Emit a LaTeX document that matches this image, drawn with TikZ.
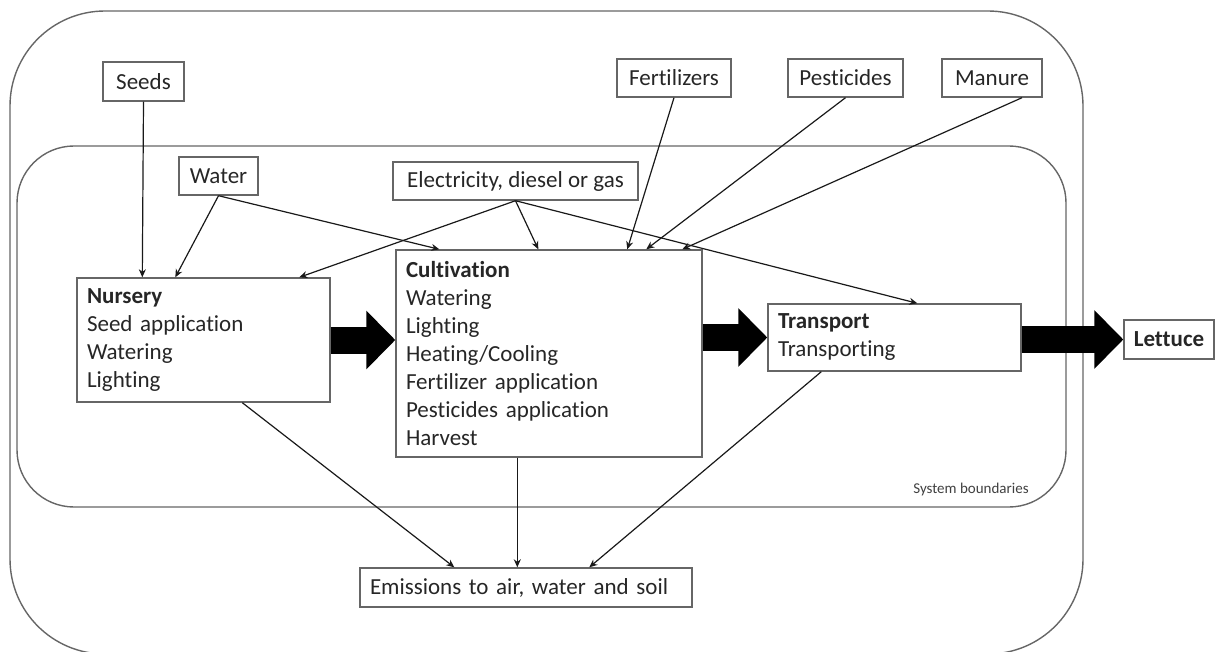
\documentclass[tikz,border=0pt]{standalone}
\usepackage{fontspec}
\setmainfont{Carlito}[Ligatures=NoCommon]
\usetikzlibrary{arrows.meta,calc}

\begin{document}
\begin{tikzpicture}[x=0.5pt,y=-0.5pt,
		box/.style={draw=black!60,line width=0.7pt,inner sep=0pt,font=\fontsize{11.5}{14}\selectfont,text=black!85},
		listbox/.style={box,align=left,inner xsep=5pt},
		flow/.style={draw=black!90,line width=0.6pt,-{Stealth[length=4pt,width=3.5pt]}},
		bigarrow/.style={draw=black,line width=13.5pt,-{Triangle[length=14.5pt,width=28.5pt]}},
		boundary/.style={draw=black!60,line width=0.7pt}]
				\useasboundingbox (0,0) rectangle (1215,652);
				%Boundaries
				\draw[boundary,rounded corners=47.5pt] (10,11) rectangle (1083,654);
				\draw[boundary,rounded corners=28.5pt] (17,146) rectangle (1066,507);
				\node[font=\fontsize{7.5}{9}\selectfont,text=black!75] (sysbound) at (971,489) {System boundaries};
				%Inputs
				\node[box,minimum width=40.5pt,minimum height=19.5pt] (seeds) at (143.5,81.5) {Seeds};
				\node[box,minimum width=39.5pt,minimum height=19pt] (water) at (218.5,176) {Water};
				\node[box,minimum width=122.5pt,minimum height=19pt] (energy) at (515.5,181) {Electricity, diesel or gas};
				\node[box,minimum width=57pt,minimum height=19pt] (fert) at (674,78) {Fertilizers};
				\node[box,minimum width=57.5pt,minimum height=19pt] (pest) at (845.5,78) {Pesticides};
				\node[box,minimum width=50pt,minimum height=19pt] (manure) at (992,78) {Manure};
				%Stages
				\node[listbox,text width=116.5pt,minimum height=62pt] (nursery) at (203.5,340) {\textbf{Nursery}\\Seed application\\Watering\\Lighting};
				\node[listbox,text width=143pt,minimum height=103.5pt] (cult) at (549,353.5) {\textbf{Cultivation}\\Watering\\Lighting\\Heating/Cooling\\Fertilizer application\\Pesticides application\\Harvest};
				\node[listbox,text width=116.5pt,minimum height=33.5pt] (transport) at (894.5,337.5) {\textbf{Transport}\\Transporting};
				\node[box,minimum width=45pt,minimum height=19.5pt,font=\fontsize{11.5}{14}\selectfont\bfseries] (lettuce) at (1169,339.5) {Lettuce};
				%Output
				\node[listbox,text width=156pt,minimum height=19.5pt] (emis) at (526,587.5) {Emissions to air, water and soil};
				%Thin arrows
				\draw[flow] (seeds.south) -- ($(nursery.north west)+(66,0)$);
				\draw[flow] (water.south) -- ($(nursery.north west)+(99,0)$);
				\draw[flow] (water.south) -- ($(cult.north west)+(44,0)$);
				\draw[flow] (energy.south) -- ($(nursery.north west)+(223,0)$);
				\draw[flow] (energy.south) -- ($(cult.north west)+(143,0)$);
				\draw[flow] (energy.south) -- ($(transport.north west)+(150,0)$);
				\draw[flow] (fert.south) -- ($(cult.north west)+(232,0)$);
				\draw[flow] (pest.south) -- ($(cult.north west)+(251,0)$);
				\draw[flow] ($(manure.south)+(30,0)$) -- ($(cult.north west)+(287,0)$);
				\draw[flow] ($(nursery.south west)+(166,0)$) -- ($(emis.north west)+(95,0)$);
				\draw[flow] ($(cult.south west)+(122,0)$) -- ($(emis.north west)+(158,0)$);
				\draw[flow] ($(transport.south west)+(54,0)$) -- ($(emis.north west)+(230,0)$);
				%Big arrows
				\draw[bigarrow] (nursery.east) -- (nursery.east -| cult.west);
				\draw[bigarrow] (transport.west -| cult.east) -- (transport.west);
				\draw[bigarrow] (lettuce.west -| transport.east) -- (lettuce.west);
			\end{tikzpicture}
\end{document}
